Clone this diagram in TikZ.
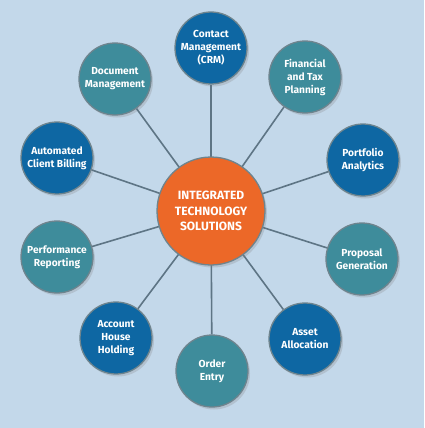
\documentclass[tikz,border=0pt]{standalone}
\usepackage{fontspec}
\setmainfont{Fira Sans}
\usetikzlibrary{shadows}
\definecolor{bgc}{RGB}{195,216,234}
\definecolor{tealc}{RGB}{62,140,155}
\definecolor{bluec}{RGB}{14,103,163}
\definecolor{orangec}{RGB}{236,104,40}
\definecolor{linec}{RGB}{94,117,133}
\definecolor{rimc}{RGB}{110,132,142}
\tikzset{
  sat/.style={circle, minimum size=72pt, inner sep=0pt, draw=rimc, line width=1.3pt,
    text=white, font=\bfseries\fontsize{10.2}{13}\selectfont, align=center,
    drop shadow={opacity=0.25, shadow xshift=2pt, shadow yshift=-2.5pt}},
  tsat/.style={sat, fill=tealc},
  bsat/.style={sat, fill=bluec},
  hub/.style={circle, minimum size=108pt, inner sep=0pt, draw=rimc, line width=1.3pt,
    fill=orangec, text=white, font=\bfseries\fontsize{12}{15.5}\selectfont, align=center,
    drop shadow={opacity=0.25, shadow xshift=2pt, shadow yshift=-2.5pt}},
  conn/.style={draw=linec, line width=1.6pt}
}
\begin{document}
\begin{tikzpicture}[x=1pt,y=-1pt]
\fill[bgc] (0,0) rectangle (424,428);
\useasboundingbox (0,0) rectangle (424,428);
\coordinate (hc) at (211,211);
\node[bsat] (crm) at (211,48) {Contact\\Management\\(CRM)};
\node[tsat] (fin) at (305,77) {Financial\\and Tax\\Planning};
\node[bsat] (port) at (363,160) {Portfolio\\Analytics};
\node[tsat] (prop) at (362,259) {Proposal\\Generation};
\node[bsat] (asset) at (305,339) {Asset\\Allocation};
\node[tsat] (order) at (212,371) {Order\\Entry};
\node[bsat] (acct) at (116,338) {Account\\House\\Holding};
\node[tsat] (perf) at (57,257) {Performance\\Reporting};
\node[bsat] (auto) at (57,158) {Automated\\Client Billing};
\node[tsat] (doc) at (115,79) {Document\\Management};
\foreach \n in {crm,fin,port,prop,asset,order,acct,perf,auto,doc}
  \draw[conn] (hc) -- (\n);
\node[hub] (hub) at (hc) {INTEGRATED\\TECHNOLOGY\\SOLUTIONS};
\end{tikzpicture}
\end{document}
